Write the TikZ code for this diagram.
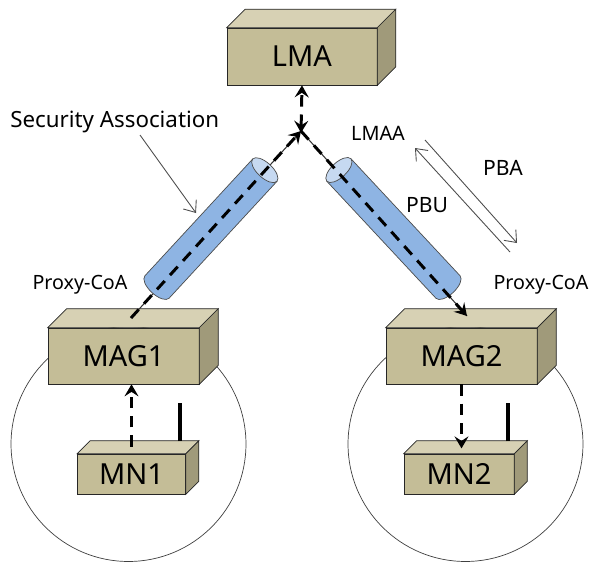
\documentclass[tikz,border=0pt]{standalone}
\usepackage{fontspec}
\setmainfont{Noto Sans}
\usetikzlibrary{arrows.meta}
\definecolor{boxfront}{RGB}{196,189,151}
\definecolor{boxtop}{RGB}{215,209,180}
\definecolor{boxside}{RGB}{160,154,122}
\definecolor{tubebody}{RGB}{142,180,227}
\definecolor{tubeend}{RGB}{198,217,241}
\tikzset{
  Tun/.tip={Stealth[length=2.4mm,width=2.8mm,inset=0.9mm]},
  device/.style={draw=black!85,fill=boxfront,inner sep=0pt,thin},
  bigname/.style={font=\fontsize{16.5}{18}\selectfont},
  cell/.style={draw=black!75,thin},
  thinline/.style={draw=black!80,line width=0.6pt},
  tunnelline/.style={line width=1.7pt,dash pattern=on 6.5pt off 4.5pt,-Tun},
  antenna/.style={line width=1.8pt},
  msg/.style={draw=black!70,line width=0.5pt,-{Straight Barb[length=2mm,width=3.2mm]}},
  label/.style={font=\fontsize{11.2}{13}\selectfont,inner sep=0pt},
}
% top and side faces of a box node
\newcommand{\boxfaces}[2]{%
  \filldraw[fill=boxtop,draw=black!85,thin] (#1.north west) -- ([shift={(#2,#2)}]#1.north west)
    -- ([shift={(#2,#2)}]#1.north east) -- (#1.north east) -- cycle;
  \filldraw[fill=boxside,draw=black!85,thin] (#1.north east) -- ([shift={(#2,#2)}]#1.north east)
    -- ([shift={(#2,#2)}]#1.south east) -- (#1.south east) -- cycle;}
% tunnel pipe: lower end, angle, length
\newcommand{\tube}[3]{%
  \begin{scope}[shift={#1},rotate=#2]
    \filldraw[fill=tubebody,draw=black!70,thin] (0cm,0.33cm) -- (#3,0.33cm) -- (#3,-0.33cm) -- (0cm,-0.33cm)
      arc[start angle=270,end angle=90,x radius=0.15cm,y radius=0.33cm] -- cycle;
    \filldraw[fill=tubeend,draw=black!70,thin] (#3,0cm) ellipse[x radius=0.15cm,y radius=0.33cm];
  \end{scope}}
\begin{document}
\begin{tikzpicture}[x=0.02cm,y=-0.02cm]
  \useasboundingbox (0,0) rectangle (592,562);
  % cells
  \draw[cell] (128.5,444) circle[radius=2.35cm];
  \draw[cell] (465.5,444) circle[radius=2.35cm];
  % boxes
  \node[device,bigname,minimum width=3cm,minimum height=1.14cm] (lma) at (302,56.5) {LMA};
  \boxfaces{lma}{0.37cm}
  \node[device,bigname,minimum width=3.02cm,minimum height=1.12cm] (mag1) at (123.5,356) {MAG1};
  \boxfaces{mag1}{0.38cm}
  \node[device,bigname,minimum width=3.02cm,minimum height=1.12cm] (mag2) at (461.5,356) {MAG2};
  \boxfaces{mag2}{0.38cm}
  \node[device,bigname,minimum width=2.16cm,minimum height=0.8cm] (mn1) at (131.5,474) {MN1};
  \boxfaces{mn1}{0.26cm}
  \node[device,bigname,minimum width=2.2cm,minimum height=0.8cm] (mn2) at (459,474) {MN2};
  \boxfaces{mn2}{0.26cm}
  % tunnels
  \coordinate (junc) at (301,131);
  \coordinate (mag1top) at (131,318);
  \coordinate (mag2top) at (467,316);
  \draw[thinline] (mag1top) -- (junc);
  \draw[thinline] (junc) -- (mag2top);
  \tube{(157,287)}{47.3}{3.18cm}
  \tube{(448,287)}{133}{3.2cm}
  \draw[tunnelline] (mag1top) -- (junc);
  \draw[tunnelline] (junc) -- (mag2top);
  \draw[tunnelline,Tun-Tun] ([yshift=-1pt]junc) -- (lma.south);
  % access links
  \draw[tunnelline] ([yshift=4pt]mn1.north) -- (mn1.north |- mag1.south);
  \draw[tunnelline] (mag2.south) -- ([yshift=3pt]mag2.south |- mn2.north);
  \draw[antenna] (180,441) -- (180,403);
  \draw[antenna] (508,441) -- (508,403);
  % labels
  \node[label,anchor=west,font=\fontsize{12.7}{15}\selectfont] (sa) at (10,122) {Security Association};
  \coordinate (saE) at (196,213);
  \draw[msg] (140,135) -- (saE);
  \node[label,font=\fontsize{11.3}{13}\selectfont] (lmaa) at (378,133) {LMAA};
  \node[label,font=\fontsize{12}{14}\selectfont] (pba) at (503,168) {PBA};
  \node[label,font=\fontsize{12}{14}\selectfont] (pbu) at (427,205) {PBU};
  \node[label] (pcoa1) at (80,285) {Proxy-CoA};
  \node[label] (pcoa2) at (541,285) {Proxy-CoA};
  \coordinate (pbaS) at (425,140);
  \coordinate (pbaE) at (517,243);
  \coordinate (pbuS) at (510,252);
  \coordinate (pbuE) at (415,148);
  \draw[msg] (pbaS) -- (pbaE);
  \draw[msg] (pbuS) -- (pbuE);
\end{tikzpicture}
\end{document}
